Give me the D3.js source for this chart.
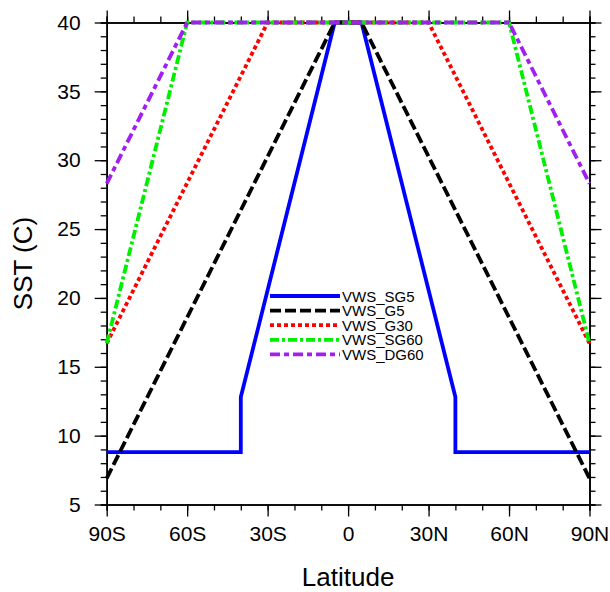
<!DOCTYPE html>
<html>
<head>
<meta charset="utf-8">
<script src="https://cdn.jsdelivr.net/npm/d3@7"></script>
<style>
  html, body { margin: 0; padding: 0; background: #fff; }
  svg text { font-family: "Liberation Sans", Arial, Helvetica, sans-serif; fill: #000; }
</style>
</head>
<body>
<svg id="chart" width="610" height="592"></svg>
<script>
// tick marks
var xTicks = [-90, -60, -30, 0, 30, 60, 90]
var xTickLabels = ["90S", "60S", "30S", "0", "30N", "60N", "90N"]
var yTicks = [5, 10, 15, 20, 25, 30, 35, 40]

// series
var seriesNames = ["VWS_SG5", "VWS_G5", "VWS_G30", "VWS_SG60", "VWS_DG60"]
var sg5Lat = [-90, -40, -40, -5, 5, 40, 40, 90]
var sg5Sst = [8.8, 8.8, 12.8, 40, 40, 12.8, 8.8, 8.8]
var g5Lat = [-90, -5, 5, 90]
var g5Sst = [6.9, 40, 40, 6.9]
var g30Lat = [-90, -30, 30, 90]
var g30Sst = [16.7, 40, 40, 16.7]
var sg60Lat = [-90, -60, 60, 90]
var sg60Sst = [16.7, 40, 40, 16.7]
var dg60Lat = [-90, -60, 60, 90]
var dg60Sst = [28.3, 40, 40, 28.3]

var lineColors = ["#0000ff", "#000000", "#ff0000", "#00ee00", "#a020f0"]
var lineDash = ["none", "11,4", "4,3", "9,3,3,3", "10,4,5,4"]

var series = [
    { lat: sg5Lat, sst: sg5Sst },
    { lat: g5Lat, sst: g5Sst },
    { lat: g30Lat, sst: g30Sst },
    { lat: sg60Lat, sst: sg60Sst },
    { lat: dg60Lat, sst: dg60Sst }
]

var svg = d3.select("#chart"),
    margin = { top: 22.5, right: 20.5, bottom: 87.5, left: 106.7 },
    width = +svg.attr("width") - margin.left - margin.right,
    height = +svg.attr("height") - margin.top - margin.bottom,
    g = svg.append("g").attr("transform", "translate(" + margin.left + "," + margin.top + ")")

svg.insert("rect", ":first-child").attr("width", 610).attr("height", 592).attr("fill", "#fff")

var x = d3.scaleLinear().domain([-90, 90]).range([0, width])
var y = d3.scaleLinear().domain([5, 40]).range([height, 0])

var xMinor = d3.range(-90, 91, 10)
var yMinor = d3.range(5, 41, 1)

function styleAxis(sel) {
    sel.select(".domain").attr("stroke", "#000").attr("stroke-width", 1.6)
    sel.selectAll(".tick line").attr("stroke", "#000").attr("stroke-width", 1.3)
}

// minor ticks
g.append("g").attr("transform", "translate(0," + height + ")")
    .call(d3.axisBottom(x).tickValues(xMinor).tickSize(6).tickFormat(""))
    .call(styleAxis)
g.append("g")
    .call(d3.axisTop(x).tickValues(xMinor).tickSize(6).tickFormat(""))
    .call(styleAxis)
g.append("g")
    .call(d3.axisLeft(y).tickValues(yMinor).tickSize(6).tickFormat(""))
    .call(styleAxis)
g.append("g").attr("transform", "translate(" + width + ",0)")
    .call(d3.axisRight(y).tickValues(yMinor).tickSize(6).tickFormat(""))
    .call(styleAxis)

// major ticks
var xAxis = g.append("g").attr("transform", "translate(0," + height + ")")
    .call(d3.axisBottom(x).tickValues(xTicks).tickSize(12).tickSizeOuter(0).tickPadding(10)
        .tickFormat(function (d, i) { return xTickLabels[i] }))
    .call(styleAxis)
xAxis.selectAll("text").attr("font-size", "21px").attr("font-family", null)

g.append("g")
    .call(d3.axisTop(x).tickValues(xTicks).tickSize(12).tickSizeOuter(0).tickFormat(""))
    .call(styleAxis)

var yAxis = g.append("g")
    .call(d3.axisLeft(y).tickValues(yTicks).tickSize(12).tickSizeOuter(0).tickPadding(14))
    .call(styleAxis)
yAxis.selectAll("text").attr("font-size", "21px").attr("font-family", null)

g.append("g").attr("transform", "translate(" + width + ",0)")
    .call(d3.axisRight(y).tickValues(yTicks).tickSize(12).tickSizeOuter(0).tickFormat(""))
    .call(styleAxis)

// lines
var line = d3.line()
    .x(function (d) { return x(d[0]) })
    .y(function (d) { return y(d[1]) })

series.forEach(function (s, i) {
    g.append("path")
        .datum(d3.zip(s.lat, s.sst))
        .attr("fill", "none")
        .attr("stroke", lineColors[i])
        .attr("stroke-width", 3.8)
        .attr("stroke-dasharray", lineDash[i])
        .attr("stroke-linejoin", "miter")
        .attr("d", line)
})

// legend
var legend = svg.append("g").attr("transform", "translate(270,296)")
seriesNames.forEach(function (name, i) {
    var row = legend.append("g").attr("transform", "translate(0," + (i * 14.6) + ")")
    row.append("line")
        .attr("x1", 0).attr("x2", 70)
        .attr("stroke", lineColors[i])
        .attr("stroke-width", 3.8)
        .attr("stroke-dasharray", lineDash[i])
    row.append("text")
        .attr("x", 72).attr("y", 5.5)
        .attr("font-size", "15px")
        .text(name)
})

// axis titles
svg.append("text")
    .attr("x", margin.left + width / 2)
    .attr("y", 586)
    .attr("text-anchor", "middle")
    .attr("font-size", "26px")
    .text("Latitude")

svg.append("text")
    .attr("transform", "translate(32," + (margin.top + height / 2) + ") rotate(-90)")
    .attr("text-anchor", "middle")
    .attr("font-size", "26px")
    .text("SST (C)")
</script>
</body>
</html>
